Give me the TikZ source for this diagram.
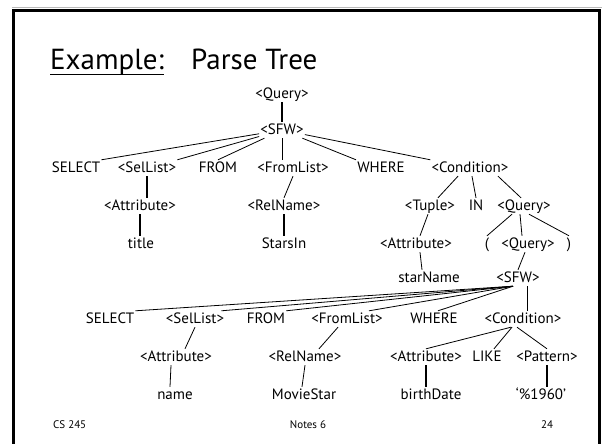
\documentclass[tikz,border=0pt]{standalone}
\usepackage{fontspec}
\setmainfont{PT Sans}
\begin{document}
\begin{tikzpicture}[x=1pt,y=-1pt,
  lab/.style={font=\fontsize{15}{18}\selectfont, inner sep=1pt,
              text height=11pt, text depth=3pt},
  head/.style={font=\fontsize{29}{34}\selectfont, inner sep=0pt, anchor=base west},
  foot/.style={font=\fontsize{11}{13}\selectfont, inner sep=0pt, anchor=base},
  edge/.style={line width=0.8pt},
  stem/.style={line width=1.25pt}]
\useasboundingbox (0,0) rectangle (602,444);

% slide frame
\draw[gray!55, line width=1pt] (12,7.5) -- (602,7.5);
\draw[line width=3pt] (13.5,450) -- (13.5,10.5) -- (599.8,10.5) -- (599.8,450);

% heading
\node[head, text depth=4pt] (ex) at (50,70) {Example:};
\draw[line width=1.3pt] (ex.south west) -- (ex.south east);
\node[head] (pt) at (191,70) {Parse Tree};

% outer query
\node[lab] (q0)   at (282,94)  {<Query>};
\node[lab] (sfw0) at (282,130) {<SFW>};

\node[lab] (sel1)   at (76,168)  {SELECT};
\node[lab] (sl1)    at (147,168) {<SelList>};
\node[lab] (from1)  at (218,168) {FROM};
\node[lab] (fl1)    at (293,168) {<FromList>};
\node[lab] (where1) at (381,168) {WHERE};
\node[lab] (cond1)  at (470,168) {<Condition>};

\node[lab] (at1) at (140,206) {<Attribute>};
\node[lab] (rn1) at (284,206) {<RelName>};
\node[lab] (tup) at (430,206) {<Tuple>};
\node[lab] (kin) at (476,206) {IN};
\node[lab] (q1)  at (524,206) {<Query>};

\node[lab] (ttl) at (141,244) {title};
\node[lab] (si)  at (284,244) {StarsIn};
\node[lab] (at2) at (416,244) {<Attribute>};
\node[lab] (lp)  at (487,244) {(};
\node[lab] (q2)  at (528,244) {<Query>};
\node[lab] (rp)  at (569,244) {)};

\node[lab] (sn)   at (429,278) {starName};
\node[lab] (sfw2) at (518,278) {<SFW>};

% inner query
\node[lab] (sel2)   at (110,319) {SELECT};
\node[lab] (sl2)    at (195,319) {<SelList>};
\node[lab] (from2)  at (266,319) {FROM};
\node[lab] (fl2)    at (347,319) {<FromList>};
\node[lab] (where2) at (434,319) {WHERE};
\node[lab] (cond2)  at (523,319) {<Condition>};

\node[lab] (at3)  at (176,357) {<Attribute>};
\node[lab] (rn2)  at (305,357) {<RelName>};
\node[lab] (at4)  at (426,357) {<Attribute>};
\node[lab] (like) at (487,357) {LIKE};
\node[lab] (pat)  at (547,357) {<Pattern>};

\node[lab] (nm)  at (175,395) {name};
\node[lab] (ms)  at (304,395) {MovieStar};
\node[lab] (bd)  at (431,395) {birthDate};
\node[lab] (pct) at (541,395) {‘\%1960’};

% footer
\node[foot, anchor=base west] (fcs) at (53,428) {CS 245};
\node[foot] (fno) at (308,428) {Notes 6};
\node[foot] (fpg) at (547,428) {24};

% outer query edges
\draw[stem] (q0.south) -- (sfw0.north);
\draw[edge] (sfw0) -- (sel1.north east);
\draw[edge] (sfw0) -- (sl1.north east);
\draw[edge] (sfw0) -- (from1.north);
\draw[edge] (sfw0.south) -- (sfw0.south |- fl1.north);
\draw[edge] (sfw0) -- (where1.north west);
\draw[edge] (sfw0) -- (cond1.north west);

\draw[stem] (sl1.south) -- (sl1.south |- at1.north);
\draw[stem] (at1.south) -- (at1.south |- ttl.north);
\draw[edge] (fl1.south) -- (rn1.north);
\draw[stem] (rn1.south) -- (rn1.south |- si.north);

\draw[edge] ([xshift=-12pt]cond1.south) -- ([xshift=8pt]tup.north);
\draw[edge] ([xshift=2pt]cond1.south) -- (kin.north);
\draw[edge] ([xshift=28pt]cond1.south) -- ([xshift=-3pt]q1.north);

\draw[edge] ([xshift=-2pt]tup.south) -- ([xshift=4pt]at2.north);
\draw[edge] ([xshift=4pt]at2.south) -- ([xshift=-7pt]sn.north);

\draw[edge] ([xshift=-12pt]q1.south) -- (lp.north);
\draw[edge] ([xshift=-4pt]q1.south) -- ([xshift=-6pt]q2.north);
\draw[edge] ([xshift=5pt]q1.south) -- (rp.north);
\draw[edge] ([xshift=-3pt]q2.south) -- (sfw2.north);

% inner query edges
\draw[edge] ([xshift=-5pt]sfw2.south) -- (sel2.north east);
\draw[edge] ([xshift=-5pt]sfw2.south) -- ([xshift=-4pt]sl2.north east);
\draw[edge] ([xshift=-5pt]sfw2.south) -- (from2.north east);
\draw[edge] ([xshift=-5pt]sfw2.south) -- ([xshift=22pt]fl2.north);
\draw[edge] ([xshift=-5pt]sfw2.south) -- ([xshift=4pt]where2.north);
\draw[edge] ([xshift=4pt]cond2.north) -- ([xshift=4pt]cond2.north |- sfw2.south);

\draw[edge] (sl2.south) -- ([xshift=9pt]at3.north);
\draw[edge] ([xshift=-5pt]at3.south) -- ([xshift=-5pt]nm.north);
\draw[edge] ([xshift=-9pt]fl2.south) -- ([xshift=14pt]rn2.north);
\draw[edge] (rn2.south) -- ([xshift=-2pt]ms.north);

\draw[edge] ([xshift=-12pt]cond2.south) -- (at4.north);
\draw[edge] ([xshift=-11pt]cond2.south) -- ([xshift=7pt]like.north);
\draw[edge] ([xshift=-6pt]cond2.south) -- (pat.north);
\draw[stem] (at4.south) -- (at4.south |- bd.north);
\draw[stem] (pat.south) -- (pat.south |- pct.north);
\end{tikzpicture}
\end{document}
